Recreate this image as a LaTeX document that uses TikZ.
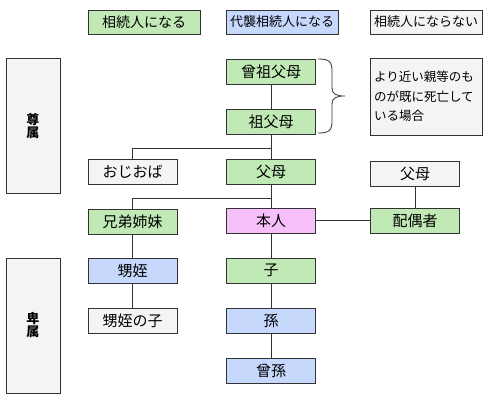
\documentclass[tikz,border=0pt]{standalone}
\usepackage{fontspec}
\setmainfont{Noto Sans CJK JP}
\usetikzlibrary{positioning}
\definecolor{cgreen}{HTML}{C0E9B5}
\definecolor{cblue}{HTML}{C6D9FD}
\definecolor{cpink}{HTML}{F8C0FA}
\definecolor{cgray}{HTML}{F4F4F2}
\definecolor{cline}{HTML}{333333}
\begin{document}
\begin{tikzpicture}[x=1pt,y=-1pt,
  box/.style={draw=cline,line width=0.8pt,inner sep=0pt,font=\fontsize{15}{17}\selectfont},
  wbox/.style={box,minimum width=89pt,minimum height=25pt},
  gbox/.style={wbox,fill=cgreen},
  bbox/.style={wbox,fill=cblue},
  pbox/.style={wbox,fill=cpink},
  nbox/.style={wbox,fill=cgray},
  lbox/.style={box,minimum width=112pt,minimum height=24pt,font=\fontsize{13}{15}\selectfont},
  sidebox/.style={box,fill=cgray,minimum width=54pt,minimum height=135pt,align=center,font=\fontsize{13}{13}\selectfont\bfseries},
  conn/.style={draw=cline,line width=0.8pt}]
\useasboundingbox (0,0) rectangle (490,400);
% legend
\node[lbox,fill=cgreen,font=\fontsize{14}{16}\selectfont] (l1) at (144,22) {相続人になる};
\node[lbox,fill=cblue] (l2) at (282,22) {代襲相続人になる};
\node[lbox,fill=cgray] (l3) at (426,22) {相続人にならない};
% side labels
\node[sidebox] (sonzoku) at (33,125.5) {尊\\属};
\node[sidebox] (hizoku) at (33,325.5) {卑\\属};
% main column
\node[gbox] (sosofubo) at (271,72) {曾祖父母};
\node[gbox] (sofubo) at (271,122) {祖父母};
\node[gbox] (fubo) at (271,171.5) {父母};
\node[pbox] (honnin) at (271,220.5) {本人};
\node[gbox] (ko) at (271,270.5) {子};
\node[bbox] (mago) at (271,320.5) {孫};
\node[bbox] (himago) at (271,370.5) {曾孫};
% left column
\node[nbox] (ojioba) at (132.5,171.5) {おじおば};
\node[gbox] (kyodai) at (132.5,221.5) {兄弟姉妹};
\node[bbox] (oimei) at (132.5,270.5) {甥姪};
\node[nbox] (oimeiko) at (132.5,320.5) {甥姪の子};
% right column
\node[nbox] (rfubo) at (415,173.5) {父母};
\node[gbox] (haigu) at (415,220.5) {配偶者};
\node[box,fill=cgray,minimum width=112pt,minimum height=77pt,align=left,text width=104pt,inner xsep=4pt,font=\fontsize{12.5}{19.5}\selectfont] (note) at (426,96.5) {より近い親等のも\\のが既に死亡して\\いる場合};
% brace
\coordinate (btop) at (318,59);
\coordinate (bbot) at (318,133);
\coordinate (btip) at (345,96);
\draw[draw=cline,line width=0.8pt] (btop) .. controls (330,59) and (332,62) .. (332,72) -- (332,88) .. controls (332,94) and (336,96) .. (btip)
  .. controls (336,96) and (332,98) .. (332,104) -- (332,120) .. controls (332,130) and (330,133) .. (bbot);
% connectors
\draw[conn] (sosofubo) -- (sofubo);
\draw[conn] (sofubo) -- (fubo);
\draw[conn] (sofubo.south |- 0,148) -| (ojioba.north);
\draw[conn] (fubo) -- (honnin);
\draw[conn] (fubo.south |- 0,198) -| (kyodai.north);
\draw[conn] (honnin) -- (ko);
\draw[conn] (ko) -- (mago);
\draw[conn] (mago) -- (himago);
\draw[conn] (kyodai) -- (oimei);
\draw[conn] (oimei) -- (oimeiko);
\draw[conn] (honnin) -- (haigu);
\draw[conn] (rfubo) -- (haigu);
\end{tikzpicture}
\end{document}
